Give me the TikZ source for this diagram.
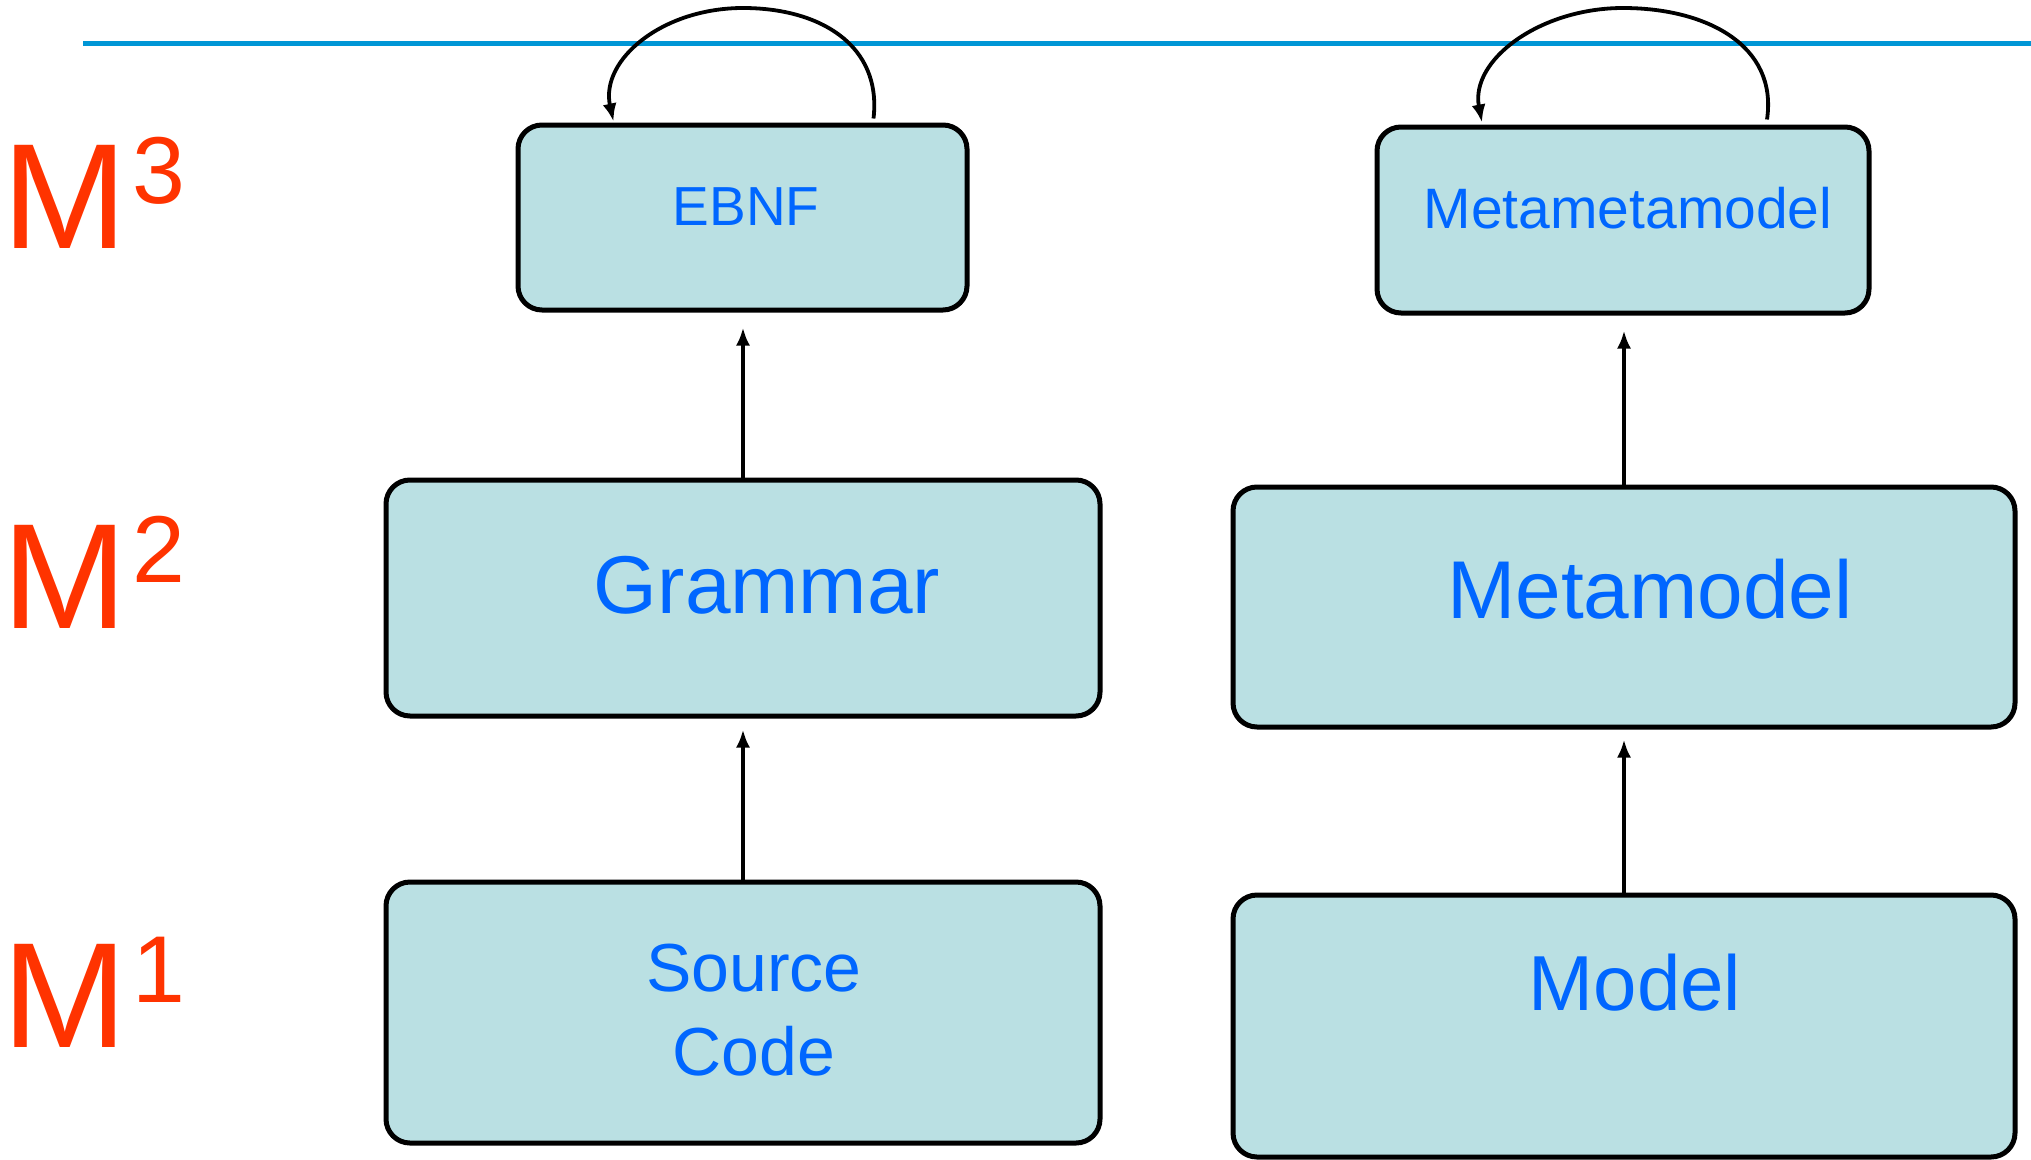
\documentclass[tikz,border=0pt]{standalone}
\usepackage{fontspec}
\setmainfont{Liberation Sans}
\usetikzlibrary{arrows.meta}
\definecolor{boxfill}{RGB}{186,224,227}
\definecolor{txtblue}{RGB}{0,102,255}
\definecolor{lvlred}{RGB}{255,51,0}
\definecolor{rulebl}{RGB}{0,150,214}
\begin{document}
\begin{tikzpicture}[x=1pt,y=-1pt,
  box/.style={draw=black, line width=5pt, fill=boxfill, rounded corners=24pt, inner sep=0pt},
  lbl/.style={text=txtblue, inner sep=0pt, anchor=base},
  lvl/.style={text=lvlred, inner sep=0pt, anchor=base west, font=\fontsize{150}{150}\selectfont},
  conn/.style={draw=black, line width=3.8pt, -{Latex[length=18pt,width=14pt]}},
]
\fill[white] (0,0) rectangle (2031,1159);
\useasboundingbox (0,0) rectangle (2031,1159);
\draw[rulebl, line width=5pt] (83,43) -- (2031,43);

% boxes
\node[box, minimum width=449pt, minimum height=185pt] (ebnf) at (742.5,217.5) {};
\node[box, minimum width=492pt, minimum height=186pt] (mmm) at (1623,220) {};
\node[box, minimum width=714pt, minimum height=236pt] (grammar) at (743,598) {};
\node[box, minimum width=782pt, minimum height=240pt] (meta) at (1624,607) {};
\node[box, minimum width=714pt, minimum height=261pt] (source) at (743,1012.5) {};
\node[box, minimum width=782pt, minimum height=262pt] (model) at (1624,1026) {};

% texts
\node[lbl, font=\fontsize{55}{66}\selectfont] (ebnfT) at (746,225) {EBNF};
\node[lbl, font=\fontsize{57}{68}\selectfont] (mmmT) at (1628,228) {Metametamodel};
\node[lbl, font=\fontsize{82}{98}\selectfont] (grammarT) at (767,613) {Grammar};
\node[lbl, font=\fontsize{82}{98}\selectfont] (metaT) at (1650,618) {Metamodel};
\node[text=txtblue, inner sep=0pt, align=center, font=\fontsize{68}{84}\selectfont] (sourceT) at (754,1010) {Source\\Code};
\node[lbl, font=\fontsize{78}{94}\selectfont] (modelT) at (1635,1010) {Model};

% level labels
\node[lvl] (m3) at (2,248) {M\hspace{5pt}\raisebox{45pt}{\fontsize{95}{95}\selectfont 3}};
\node[lvl] (m2) at (2,628) {M\hspace{5pt}\raisebox{46pt}{\fontsize{95}{95}\selectfont 2}};
\node[lvl] (m1) at (2,1047) {M\hspace{5pt}\raisebox{45pt}{\fontsize{95}{95}\selectfont 1}};

% self loops
\draw[conn] ([xshift=131pt,yshift=4pt]ebnf.north) .. controls (882,45) and (820,8) .. (743,8) .. controls (662,8) and (600,60) .. ([xshift=-129pt,yshift=1pt]ebnf.north);
\draw[conn] ([xshift=144pt,yshift=5pt]mmm.north) .. controls (1778,45) and (1706,8) .. (1623,8) .. controls (1540,8) and (1470,60) .. ([xshift=-141pt,yshift=2pt]mmm.north);

% vertical connectors
\draw[conn, shorten >=15pt] (grammar.north) -- (grammar.north |- ebnf.south);
\draw[conn, shorten >=11pt] (source.north) -- (source.north |- grammar.south);
\draw[conn, shorten >=15pt] (meta.north) -- (meta.north |- mmm.south);
\draw[conn, shorten >=10pt] (model.north) -- (model.north |- meta.south);
\end{tikzpicture}
\end{document}
